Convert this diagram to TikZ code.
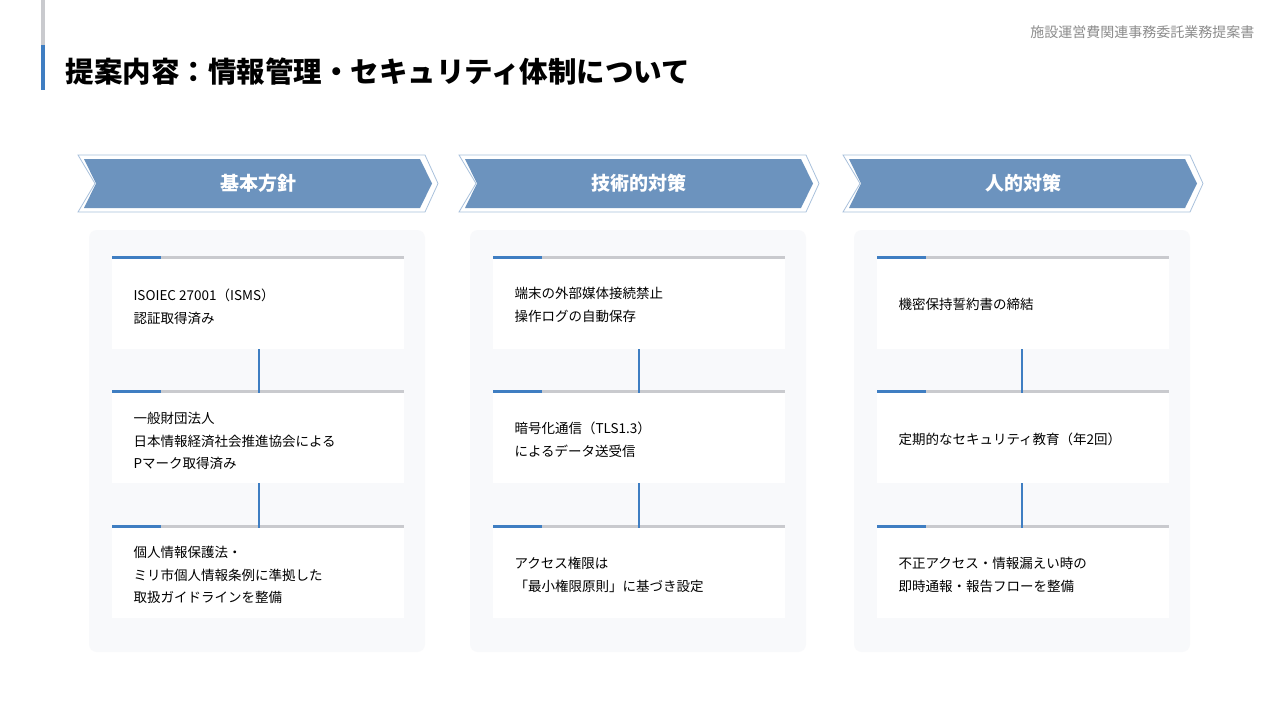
\documentclass[tikz,border=0pt]{standalone}
\usepackage{fontspec}
\setmainfont{Noto Sans CJK JP}
\definecolor{blu}{HTML}{3F7EC2}
\definecolor{chev}{HTML}{6C93BE}
\definecolor{chevl}{HTML}{A9C1DC}
\definecolor{panel}{HTML}{F8F9FB}
\definecolor{barg}{HTML}{C9CACE}
\tikzset{
 txt/.style={anchor=west,align=left,font=\fontsize{13.5}{22.5}\selectfont,text=black},
 conn/.style={draw=blu,line width=1.6pt},
}
\begin{document}
\begin{tikzpicture}[x=1pt,y=-1pt]
\useasboundingbox (0,0) rectangle (1280,720);
\fill[white] (0,0) rectangle (1280,720);
\fill[barg] (40.5,0) rectangle (44.5,45);
\fill[blu] (40.5,45) rectangle (44.5,90);
\node[anchor=west,font=\fontsize{28.5}{32}\selectfont\bfseries] (title) at (62,72) {提案内容：情報管理・セキュリティ体制について};
\node[anchor=east,font=\fontsize{14}{16}\selectfont,text=black!45] (hdr) at (1258,32) {施設運営費関連事務委託業務提案書};
\foreach \cx/\px/\lx/\hd/\i in {78/89/259/基本方針/a,459/470/639/技術的対策/b,843/854/1022/人的対策/c}{
  \draw[chevl,line width=0.8pt] (\cx,155) -- (\cx+347,155) -- (\cx+360,183.5) -- (\cx+347,212) -- (\cx,212) -- (\cx+17,183.5) -- cycle;
  \fill[chev] (\cx+6,159) -- (\cx+342,159) -- (\cx+354,183.5) -- (\cx+342,208) -- (\cx+6,208) -- (\cx+18,183.5) -- cycle;
  \node[font=\fontsize{19}{20}\selectfont\bfseries,text=white] (h\i) at (\cx+180,183.5) {\hd};
  \fill[panel,rounded corners=8pt] (\px,230) rectangle (\px+336,652);
  \foreach \y/\j in {257/1,391/2,526/3}{
    \fill[white] (\px+23,\y) rectangle (\px+315,\y+92);
    \fill[barg] (\px+23,\y-1.5) rectangle (\px+315,\y+1.5);
    \fill[blu] (\px+23,\y-1.5) rectangle (\px+72,\y+1.5);
    \coordinate (t\i\j) at (\lx,\y+1.5);
    \coordinate (b\i\j) at (\lx,\y+92);
  }
  \draw[conn] (b\i1) -- (t\i2);
  \draw[conn] (b\i2) -- (t\i3);
}
\node[txt] (a1) at (130,307) {ISOIEC 27001（ISMS）\\認証取得済み};
\node[txt] (a2) at (130,441) {一般財団法人\\日本情報経済社会推進協会による\\Pマーク取得済み};
\node[txt] (a3) at (130,575) {個人情報保護法・\\ミリ市個人情報条例に準拠した\\取扱ガイドラインを整備};
\node[txt] (b1) at (511,305) {端末の外部媒体接続禁止\\操作ログの自動保存};
\node[txt] (b2) at (511,440) {暗号化通信（TLS1.3）\\によるデータ送受信};
\node[txt] (b3) at (511,575) {アクセス権限は\\「最小権限原則」に基づき設定};
\node[txt] (c1) at (895,304) {機密保持誓約書の締結};
\node[txt] (c2) at (895,439) {定期的なセキュリティ教育（年2回）};
\node[txt] (c3) at (895,575) {不正アクセス・情報漏えい時の\\即時通報・報告フローを整備};
\end{tikzpicture}
\end{document}
